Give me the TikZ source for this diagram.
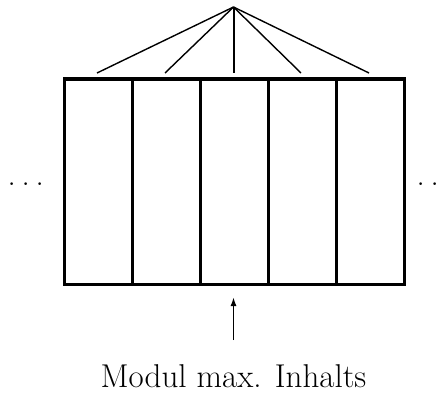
\documentclass[tikz,border=0pt]{standalone}
\usepackage{fontspec}
\usetikzlibrary{arrows.meta}
\newcommand{\mydots}{.\kern5.8pt.\kern5.8pt.}
\begin{document}
\begin{tikzpicture}[x=1pt,y=-1pt,
  cell/.style={draw,line width=3pt,minimum width=68pt,minimum height=205pt,inner sep=0pt,outer sep=0pt},
  fan/.style={line width=1.4pt},
  bigtext/.style={font=\fontsize{33}{40}\selectfont,inner sep=0pt}]
\useasboundingbox (0,0) rectangle (447,396);
\node[cell] (c1) at (98.5,181.5) {};
\node[cell] (c2) at (166.5,181.5) {};
\node[cell] (c3) at (234.5,181.5) {};
\node[cell] (c4) at (302.5,181.5) {};
\node[cell] (c5) at (370.5,181.5) {};
\coordinate (apex) at (233.5,7);
\coordinate (t1) at (97,73);
\coordinate (t2) at (165,73);
\coordinate (t3) at (233.5,73);
\coordinate (t4) at (301,73);
\coordinate (t5) at (369,73);
\draw[fan] (apex) -- (t1);
\draw[fan] (apex) -- (t2);
\draw[line width=2pt] (apex) -- (t3);
\draw[fan] (apex) -- (t4);
\draw[fan] (apex) -- (t5);
\node[bigtext,anchor=base west] (ld) at (7.4,185) {\mydots};
\node[bigtext,anchor=base west] (rd) at (416.4,185) {\mydots};
\coordinate (ab) at (233.5,340);
\coordinate (at) at (233.5,297);
\draw[line width=1.6pt,-{Latex[length=9pt,width=6pt]}] (ab) -- (at);
\node[bigtext,anchor=base] (lbl) at (233.5,387) {Modul max. Inhalts};
\end{tikzpicture}
\end{document}
